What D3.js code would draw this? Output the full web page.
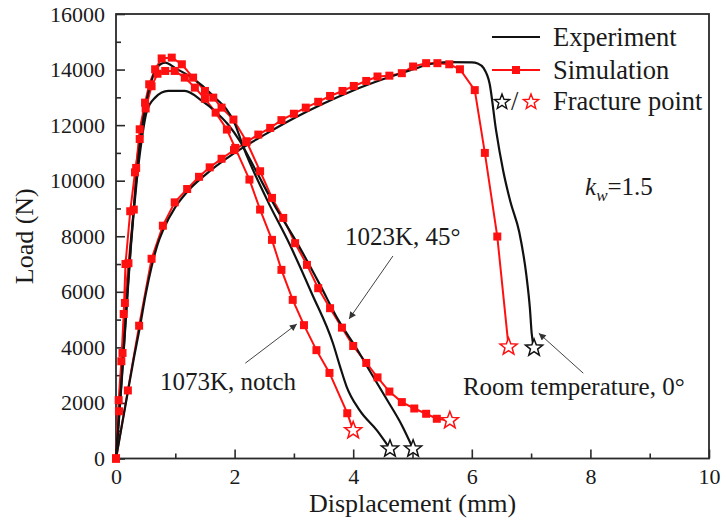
<!DOCTYPE html>
<html><head><meta charset="utf-8">
<script src="https://cdn.jsdelivr.net/npm/d3@7"></script>
<style>
body{margin:0;background:#fff}
text{font-family:"Liberation Serif","Times New Roman",serif;fill:#1a1a1a}
</style>
</head><body>
<svg id="chart" width="727" height="527"></svg>
<script>
// ---------- data (displacement mm, load N) ----------
const xTicks = [0, 2, 4, 6, 8, 10];
const xMinor = [1, 3, 5, 7, 9];
const yTicks = [0, 2000, 4000, 6000, 8000, 10000, 12000, 14000, 16000];
const yMinor = [1000, 3000, 5000, 7000, 9000, 11000, 13000, 15000];

const expRoom = [[0,0],[0.1,1200],[0.2,2400],[0.3,3600],[0.4,4700],[0.5,5900],[0.6,6900],[0.7,7700],[0.8,8250],[1.0,9050],[1.2,9600],[1.5,10200],[2.0,11000],[2.5,11650],[3.0,12250],[3.5,12780],[4.0,13250],[4.5,13650],[5.0,14000],[5.3,14200],[5.6,14270],[6.0,14260],[6.1,14220],[6.2,14050],[6.3,13500],[6.41,11800],[6.53,10350],[6.65,9250],[6.8,8150],[6.92,6600],[6.98,5400],[7.01,4500],[7.05,3980]];
const simRoom = [[0,0],[0.2,2450],[0.39,4780],[0.6,7190],[0.79,8380],[0.99,9220],[1.2,9700],[1.4,10140],[1.58,10480],[1.78,10790],[1.99,11100],[2.2,11390],[2.4,11660],[2.6,11900],[2.79,12180],[3.0,12410],[3.2,12630],[3.41,12840],[3.61,13050],[3.82,13230],[4.01,13410],[4.22,13590],[4.41,13750],[4.61,13780],[4.82,13870],[5.01,14110],[5.23,14230],[5.42,14230],[5.62,14190],[5.8,14010],[6.05,13260],[6.22,11000],[6.43,7990],[6.62,4020]];

const expNotch = [[0,0],[0.05,1500],[0.1,3000],[0.15,4600],[0.2,6200],[0.25,7700],[0.3,9000],[0.35,10200],[0.4,11300],[0.5,12700],[0.6,13600],[0.7,14100],[0.83,14250],[1.0,14050],[1.28,13710],[1.61,13110],[2.01,12020],[2.15,11200],[2.55,9300],[2.93,7700],[3.3,5950],[3.66,4140],[3.78,3300],[3.89,2580],[4.11,1730],[4.4,1010],[4.62,350]];
const simNotch = [[0,0],[0.045,2100],[0.09,3500],[0.13,5200],[0.16,7000],[0.24,8900],[0.32,10300],[0.4,11500],[0.5,12600],[0.6,13400],[0.7,13850],[0.83,13950],[0.99,13950],[1.16,13710],[1.33,13350],[1.5,12950],[1.68,12450],[1.87,11840],[2.01,11180],[2.25,10040],[2.43,8960],[2.63,7870],[2.79,6790],[2.98,5710],[3.17,4800],[3.38,3900],[3.6,3080],[3.9,1630],[4.0,1010]];

const exp1023 = [[0,0],[0.05,1400],[0.1,2900],[0.15,4500],[0.2,6100],[0.25,7600],[0.3,8900],[0.35,10000],[0.43,11420],[0.52,12500],[0.66,12990],[0.88,13230],[1.16,13230],[1.45,12870],[1.67,12500],[1.89,12020],[2.09,11420],[2.35,10400],[2.65,9200],[3.07,7700],[3.44,6250],[3.75,4980],[4.06,3950],[4.28,3150],[4.56,2150],[4.82,1200],[5.01,350]];
const sim1023 = [[0,0],[0.05,1700],[0.11,3800],[0.15,5600],[0.21,7030],[0.3,8960],[0.34,10460],[0.4,11850],[0.49,12810],[0.56,13470],[0.66,14010],[0.77,14400],[0.94,14430],[1.11,14190],[1.3,13710],[1.5,13230],[1.64,12990],[1.78,12630],[1.98,12200],[2.2,11420],[2.43,10340],[2.63,9380],[2.82,8660],[3.02,7750],[3.22,6970],[3.41,6130],[3.61,5410],[3.81,4710],[4.0,4050],[4.22,3440],[4.41,2920],[4.61,2410],[4.82,2030],[5.03,1800],[5.23,1610],[5.41,1430],[5.63,1370]];

const expSeries = [expRoom, expNotch, exp1023];
const simSeries = [simRoom, simNotch, sim1023];

const legendLabels = ["Experiment", "Simulation", "Fracture point"];
const xTitle = "Displacement (mm)";
const yTitle = "Load (N)";

// annotations: [text, textX, textY(baseline), arrowFromX, arrowFromY, arrowToX, arrowToY] in data units
const annotations = [
  ["1023K, 45°", 3.86, 7690, 4.67, 7290, 3.93, 5020],
  ["1073K, notch", 0.74, 2450, 2.18, 3430, 3.05, 4840],
  ["Room temperature, 0°", 5.85, 2270, 7.88, 3070, 7.13, 4510]
];
const kwLabel = {x: 7.91, y: 9500, value: "=1.5"};

// ---------- layout ----------
const W = 727, H = 527;
const m = {left: 116, right: 18, top: 14, bottom: 68.5};
const svg = d3.select("#chart");
const x = d3.scaleLinear().domain([0, 10]).range([m.left, W - m.right]);
const y = d3.scaleLinear().domain([0, 16000]).range([H - m.bottom, m.top]);

const axisColor = "#2a2a2a";
const red = "#ff1010";

// axes
const gx = svg.append("g").attr("transform", `translate(0,${H - m.bottom})`);
gx.call(d3.axisBottom(x).tickValues(xTicks).tickSize(-9).tickPadding(10).tickFormat(d3.format("d")));
const gxm = svg.append("g").attr("transform", `translate(0,${H - m.bottom})`);
gxm.call(d3.axisBottom(x).tickValues(xMinor).tickSize(-5).tickFormat(""));
const gy = svg.append("g").attr("transform", `translate(${m.left},0)`);
gy.call(d3.axisLeft(y).tickValues(yTicks).tickSize(-9).tickPadding(11).tickFormat(d3.format("d")));
const gym = svg.append("g").attr("transform", `translate(${m.left},0)`);
gym.call(d3.axisLeft(y).tickValues(yMinor).tickSize(-5).tickFormat(""));
[gx, gxm, gy, gym].forEach(g => {
  g.select(".domain").remove();
  g.selectAll("line").attr("stroke", axisColor).attr("stroke-width", 1.6);
  g.selectAll("text").style("font-family", '"Liberation Serif", serif').style("font-size", "22px").attr("fill", "#1a1a1a");
});

// frame
svg.append("rect").attr("x", x(0)).attr("y", y(16000))
  .attr("width", x(10) - x(0)).attr("height", y(0) - y(16000))
  .attr("fill", "none").attr("stroke", axisColor).attr("stroke-width", 1.8);

// titles
svg.append("text").attr("x", (x(0) + x(10)) / 2).attr("y", 512)
  .attr("text-anchor", "middle").style("font-size", "26px").text(xTitle);
svg.append("text").attr("transform", `translate(33,${(y(0) + y(16000)) / 2}) rotate(-90)`)
  .attr("text-anchor", "middle").style("font-size", "26px").text(yTitle);

// curves
const lineExp = d3.line().x(d => x(d[0])).y(d => y(d[1])).curve(d3.curveMonotoneX);
const lineSim = d3.line().x(d => x(d[0])).y(d => y(d[1]));

const starPath = (r) => {
  const pts = [];
  for (let i = 0; i < 10; i++) {
    const rr = i % 2 === 0 ? r : r * 0.42;
    const a = -Math.PI / 2 + i * Math.PI / 5;
    pts.push([rr * Math.cos(a), rr * Math.sin(a)]);
  }
  return "M" + pts.map(p => p[0].toFixed(2) + "," + p[1].toFixed(2)).join("L") + "Z";
};

simSeries.forEach(s => {
  svg.append("path").datum(s).attr("d", lineSim)
    .attr("fill", "none").attr("stroke", red).attr("stroke-width", 2);
});
expSeries.forEach(s => {
  svg.append("path").datum(s).attr("d", lineExp)
    .attr("fill", "none").attr("stroke", "#111").attr("stroke-width", 2.2);
});
simSeries.forEach(s => {
  svg.append("g").selectAll("rect").data(s.slice(0, -1)).join("rect")
    .attr("x", d => x(d[0]) - 4).attr("y", d => y(d[1]) - 4)
    .attr("width", 8).attr("height", 8).attr("fill", red);
});
// fracture stars
expSeries.forEach(s => {
  const d = s[s.length - 1];
  svg.append("path").attr("d", starPath(9)).attr("transform", `translate(${x(d[0])},${y(d[1])})`)
    .attr("fill", "#fff").attr("stroke", "#111").attr("stroke-width", 1.5);
});
simSeries.forEach(s => {
  const d = s[s.length - 1];
  svg.append("path").attr("d", starPath(9)).attr("transform", `translate(${x(d[0])},${y(d[1])})`)
    .attr("fill", "#fff").attr("stroke", red).attr("stroke-width", 1.5);
});

// arrow marker
const defs = svg.append("defs");
defs.append("marker").attr("id", "arr").attr("viewBox", "0 0 10 10")
  .attr("refX", 10).attr("refY", 5).attr("markerWidth", 9).attr("markerHeight", 7)
  .attr("markerUnits", "userSpaceOnUse").attr("orient", "auto")
  .append("path").attr("d", "M0,0L10,5L0,10Z").attr("fill", "#333");

annotations.forEach(a => {
  svg.append("text").attr("x", x(a[1])).attr("y", y(a[2])).style("font-size", "25px").text(a[0]);
  svg.append("line").attr("x1", x(a[3])).attr("y1", y(a[4])).attr("x2", x(a[5])).attr("y2", y(a[6]))
    .attr("stroke", "#444").attr("stroke-width", 1).attr("marker-end", "url(#arr)");
});

// k_w label
const kw = svg.append("text").attr("x", x(kwLabel.x)).attr("y", y(kwLabel.y)).style("font-size", "25px");
kw.append("tspan").style("font-style", "italic").text("k");
kw.append("tspan").style("font-style", "italic").style("font-size", "17px").attr("dy", 6).text("w");
kw.append("tspan").attr("dy", -6).text(kwLabel.value);

// legend
const lg = svg.append("g");
lg.append("line").attr("x1", 492).attr("x2", 540).attr("y1", 37).attr("y2", 37).attr("stroke", "#111").attr("stroke-width", 2.2);
lg.append("text").attr("x", 553).attr("y", 46).style("font-size", "26.5px").text(legendLabels[0]);
lg.append("line").attr("x1", 492).attr("x2", 540).attr("y1", 70).attr("y2", 70).attr("stroke", red).attr("stroke-width", 2);
lg.append("rect").attr("x", 512).attr("y", 66).attr("width", 8).attr("height", 8).attr("fill", red);
lg.append("text").attr("x", 553).attr("y", 79).style("font-size", "26.5px").text(legendLabels[1]);
lg.append("path").attr("d", starPath(8)).attr("transform", "translate(502,102)")
  .attr("fill", "#fff").attr("stroke", "#111").attr("stroke-width", 1.4);
lg.append("text").attr("x", 511).attr("y", 110).style("font-size", "26.5px").text("/");
lg.append("path").attr("d", starPath(8)).attr("transform", "translate(531,102)")
  .attr("fill", "#fff").attr("stroke", red).attr("stroke-width", 1.4);
lg.append("text").attr("x", 553).attr("y", 110).style("font-size", "26.5px").text(legendLabels[2]);
</script>
</body></html>
